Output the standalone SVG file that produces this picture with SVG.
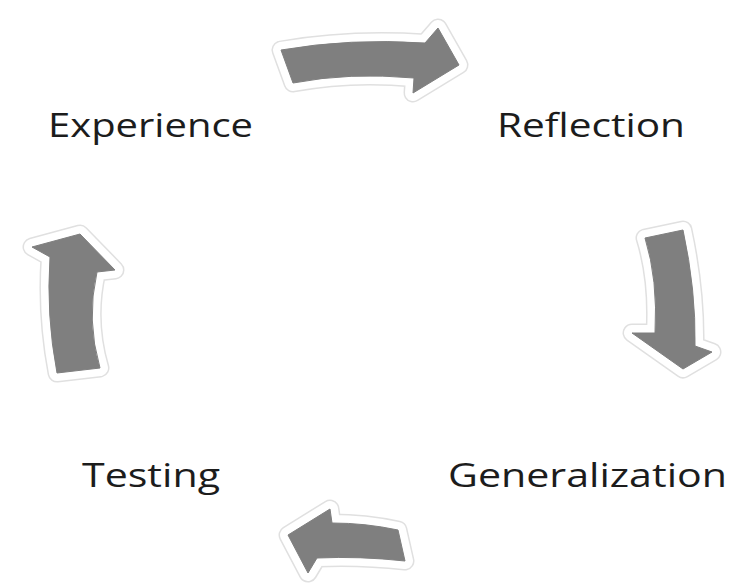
<svg xmlns="http://www.w3.org/2000/svg" xmlns:xlink="http://www.w3.org/1999/xlink" width="730" height="584" viewBox="0 0 730 584">
<defs>
<style>
.halo1{fill:#e0e0e0;stroke:#e0e0e0;stroke-width:19;stroke-linejoin:round}
.halo2{fill:#ffffff;stroke:#ffffff;stroke-width:16;stroke-linejoin:round}
.body{fill:#7f7f7f;stroke:#7f7f7f;stroke-width:1;stroke-linejoin:round}
.lbl{font-family:"Open Sans","Noto Sans",sans-serif;font-size:32px;fill:#1c1c1c}
</style>
<path id="a1" d="M281,50 Q350,38 425,43 L438,28 L459,65 L413,93 L414,78 Q350,72 293,83 Z"/>
<path id="a2" d="M645,238 L683,230 Q696,290 695,346 L712,352 L683,369 L632,333 L655,333 Q658,280 645,238 Z"/>
<path id="a3" d="M288,535 L330,509 L332,523 Q365,523 398,530 L405,561 Q360,556 317,558 L308,573 Z"/>
<path id="a4" d="M32,247 L80,234 L115,270 L97,272 Q86,320 100,368 L57,373 Q46,315 50,257 Z"/>
</defs>
<rect width="730" height="584" fill="#ffffff"/>
<g id="connectors">
<g id="arrow-top"><use xlink:href="#a1" class="halo1"/><use xlink:href="#a1" class="halo2"/><use xlink:href="#a1" class="body"/></g>
<g id="arrow-right"><use xlink:href="#a2" class="halo1"/><use xlink:href="#a2" class="halo2"/><use xlink:href="#a2" class="body"/></g>
<g id="arrow-bottom"><use xlink:href="#a3" class="halo1"/><use xlink:href="#a3" class="halo2"/><use xlink:href="#a3" class="body"/></g>
<g id="arrow-left"><use xlink:href="#a4" class="halo1"/><use xlink:href="#a4" class="halo2"/><use xlink:href="#a4" class="body"/></g>
</g>
<g id="experience"><text class="lbl" x="48" y="137" textLength="205" lengthAdjust="spacingAndGlyphs">Experience</text></g>
<g id="reflection"><text class="lbl" x="497" y="137" textLength="188" lengthAdjust="spacingAndGlyphs">Reflection</text></g>
<g id="generalization"><text class="lbl" x="448" y="487" textLength="279" lengthAdjust="spacingAndGlyphs">Generalization</text></g>
<g id="testing"><text class="lbl" x="82" y="487" textLength="138" lengthAdjust="spacingAndGlyphs">Testing</text></g>
</svg>
